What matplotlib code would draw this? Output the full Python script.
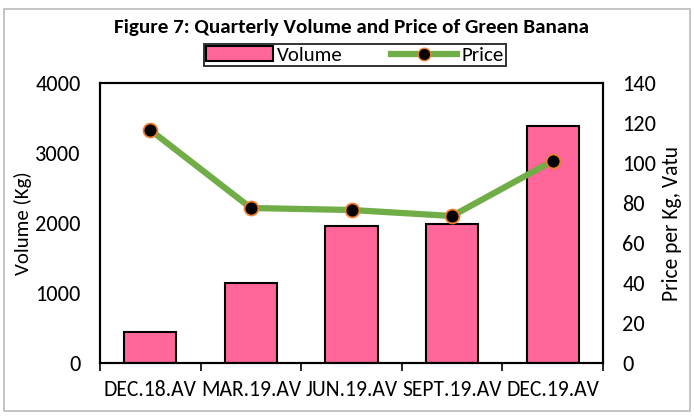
import matplotlib
matplotlib.use("Agg")
import matplotlib.pyplot as plt
from matplotlib.patches import Rectangle
from matplotlib.lines import Line2D
import logging
logging.getLogger('matplotlib.font_manager').setLevel(logging.ERROR)

categories = ["DEC.18.AV", "MAR.19.AV", "JUN.19.AV", "SEPT.19.AV", "DEC.19.AV"]
volume = [440, 1150, 1960, 1990, 3380]
price = [116.5, 77.5, 76.5, 73.5, 101]

W, H = 694, 417
fig = plt.figure(figsize=(W / 100, H / 100), dpi=100)
plt.rcParams['font.family'] = ['Carlito', 'Open Sans', 'DejaVu Sans']

def fx(px): return px / W
def fy(py): return 1 - py / H

ax = fig.add_axes([fx(100), fy(363), fx(603) - fx(100), fy(83) - fy(363)])
x = list(range(len(categories)))
ax.bar(x, volume, width=0.52, color="#FF6699", edgecolor="black", linewidth=1.5, zorder=2)
ax.set_xlim(-0.5, len(categories) - 0.5)
ax.set_ylim(0, 4000)
ax.set_yticks([0, 1000, 2000, 3000, 4000])
ax.tick_params(axis='y', length=0, labelsize=16, pad=14)
ax.set_xticks([i - 0.5 for i in range(len(categories) + 1)], minor=False)
ax.set_xticklabels([])
ax.set_xticks(x, minor=True)
ax.set_xticklabels(categories, minor=True)
ax.tick_params(axis='x', which='major', length=6, width=1.2, direction='out')
ax.tick_params(axis='x', which='minor', length=0, labelsize=15.6, pad=12)
for s in ax.spines.values():
    s.set_linewidth(1.5)
ax.set_ylabel("Volume (Kg)", fontsize=15)
ax.yaxis.set_label_coords(-0.136, 0.5)

ax2 = ax.twinx()
ax2.plot(x, price, color="#70AD47", linewidth=4.5, marker='o', markersize=10,
         markerfacecolor="black", markeredgecolor="#ED7D31", markeredgewidth=1.3, zorder=3)
ax2.set_ylim(0, 140)
ax2.set_yticks(range(0, 141, 20))
ax2.tick_params(axis='y', length=0, labelsize=16, pad=14)
ax2.set_ylabel("Price per Kg, Vatu", fontsize=15.5)
ax2.yaxis.set_label_coords(1.118, 0.5)
for s in ax2.spines.values():
    s.set_linewidth(1.5)

fig.text(fx(351), fy(27), "Figure 7: Quarterly Volume and Price of Green Banana",
         ha='center', va='center', fontsize=15.2, fontweight='bold')

handles = [Rectangle((0, 0), 1, 1, facecolor="#FF6699", edgecolor="black", linewidth=1.5),
           Line2D([0], [0], color="#70AD47", linewidth=4.5, marker='o', markersize=9,
                  markerfacecolor="black", markeredgecolor="#ED7D31")]
leg = fig.legend(handles, ["Volume", "Price"], loc='center', bbox_to_anchor=(fx(355), fy(55)),
                 ncol=2, frameon=True, fancybox=False, edgecolor='black', fontsize=15,
                 handlelength=3.2, handleheight=0.7, columnspacing=2.3, borderpad=0.1,
                 handletextpad=0.2, borderaxespad=0)
leg.get_frame().set_linewidth(1.4)

fig.patches.append(Rectangle((fx(4), fy(411)), fx(690) - fx(4), fy(9) - fy(411),
                             transform=fig.transFigure, fill=False, edgecolor="#BBBBBB", linewidth=1.2))

fig.savefig("out.png", dpi=100)
